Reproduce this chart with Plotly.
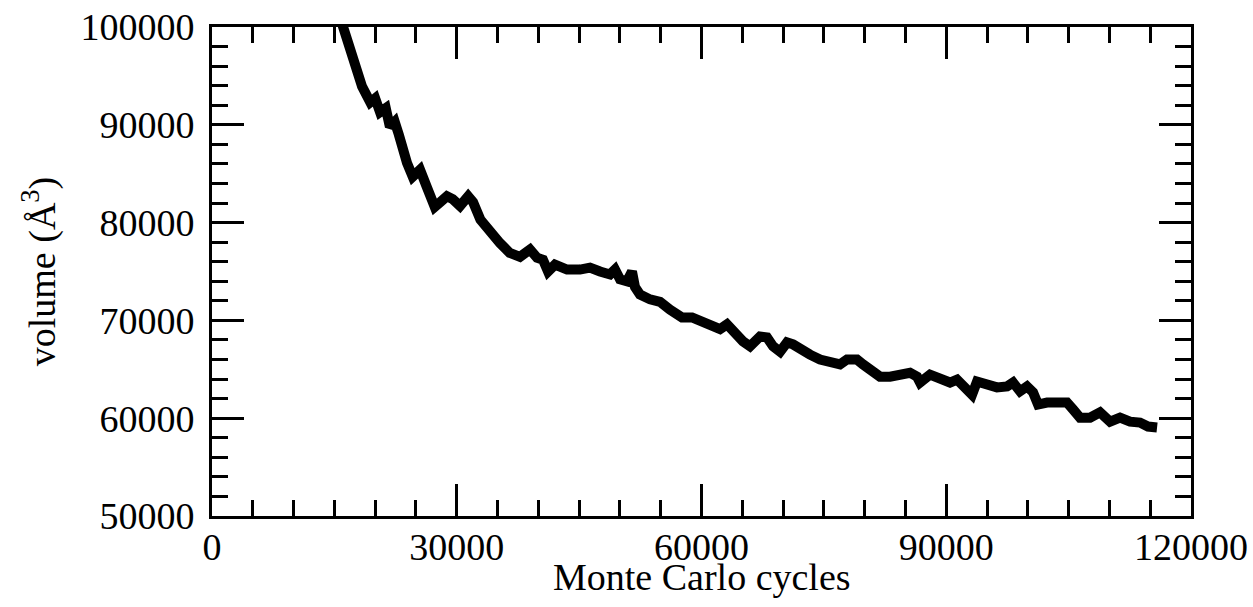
import plotly.graph_objects as go

# Monte Carlo cycles (thousands) and volume (Å^3)
cycles_k = [15.5, 16.3, 17.5, 18.4, 19.4, 20.0, 20.6, 21.3, 21.8, 22.4, 22.9, 23.3, 23.9,
            24.6, 25.5, 26.3, 27.3, 28.0, 28.8, 29.5, 30.4, 31.4, 32.0, 32.9, 33.8, 34.9,
            35.3, 36.5, 37.75, 38.98, 39.84, 40.57, 41.19, 42.04, 43.52, 45.11, 46.33,
            47.56, 48.79, 49.40, 50.01, 50.87, 51.48, 51.85, 52.46, 53.69, 54.92, 56.14,
            57.61, 58.84, 60.19, 61.04, 62.27, 63.13, 63.86, 65.09, 65.95, 67.17, 68.03,
            68.77, 69.63, 70.48, 71.22, 72.08, 73.30, 74.53, 75.75, 76.98, 77.84, 79.06,
            79.80, 80.66, 81.88, 83.11, 84.33, 85.56, 86.42, 86.79, 88.01, 89.24, 90.46,
            91.32, 92.55, 93.16, 93.77, 95.00, 96.22, 97.45, 98.19, 99.04, 99.90, 100.64,
            101.25, 102.35, 103.58, 104.80, 105.54, 106.40, 107.62, 108.85, 110.08,
            111.30, 112.53, 113.75, 114.73, 115.84]
volume = [101500, 99400, 96300, 93900, 92300, 92700, 91300, 91700, 89800, 90300, 89000,
          87500, 86100, 84700, 85400, 83700, 81600, 82100, 82700, 82400, 81700, 82700,
          82100, 80300, 79300, 78300, 77900, 76900, 76500, 77250, 76400, 76200, 75000,
          75700, 75200, 75200, 75400, 75000, 74700, 75200, 74200, 74000, 75000, 73400,
          72650, 72150, 71900, 71100, 70300, 70300, 69800, 69600, 69100, 69600, 68900,
          67850, 67350, 68350, 68250, 67350, 66800, 67750, 67550, 67000, 66500, 66000,
          65700, 65500, 66000, 66000, 65500, 65000, 64250, 64250, 64450, 64650, 64250,
          63650, 64450, 64150, 63650, 63950, 62750, 62400, 63750, 63450, 63150, 63250,
          63650, 62750, 63250, 62650, 61400, 61600, 61700, 61600, 60900, 60050, 60050,
          60600, 59650, 60050, 59650, 59550, 59150, 59050]
cycles = [c * 1000 for c in cycles_k]

x_ticks = [0, 30000, 60000, 90000, 120000]
y_ticks = [50000, 60000, 70000, 80000, 90000, 100000]

FONT = "Liberation Serif"

fig = go.Figure()
fig.add_trace(go.Scatter(x=cycles, y=volume, mode="lines",
                         line=dict(color="black", width=10), showlegend=False))

axis_common = dict(
    showgrid=False, zeroline=False, showline=True, linecolor="black", linewidth=3,
    mirror="allticks", ticks="inside", ticklen=32, tickwidth=2.5, tickcolor="black",
    tickfont=dict(family=FONT, size=38, color="black"),
)

fig.update_xaxes(
    range=[0, 120000], tickmode="array", tickvals=x_ticks,
    ticktext=[str(v) for v in x_ticks],
    minor=dict(dtick=5000, tick0=0, ticks="inside", ticklen=16, tickwidth=2.5,
               tickcolor="black", showgrid=False),
    ticklabelstandoff=-5,
    **axis_common,
)
fig.update_yaxes(
    range=[50000, 100000], tickmode="array", tickvals=y_ticks,
    ticktext=[str(v) for v in y_ticks],
    minor=dict(dtick=2000, tick0=50000, ticks="inside", ticklen=16, tickwidth=2.5,
               tickcolor="black", showgrid=False),
    title=dict(text="volume (Å<sup>3</sup>)", font=dict(family=FONT, size=38, color="black"),
               standoff=14),
    ticklabelstandoff=7,
    **axis_common,
)

fig.add_annotation(
    text="Monte Carlo cycles", xref="paper", yref="paper", x=0.5, y=-0.1247,
    xanchor="center", yanchor="middle", showarrow=False,
    font=dict(family=FONT, size=38, color="black"),
)

fig.update_layout(
    width=1253, height=607,
    margin=dict(l=212, r=62, t=27, b=91, autoexpand=False),
    plot_bgcolor="white", paper_bgcolor="white",
    font=dict(family=FONT, color="black"),
)

fig.write_html("out.html")
